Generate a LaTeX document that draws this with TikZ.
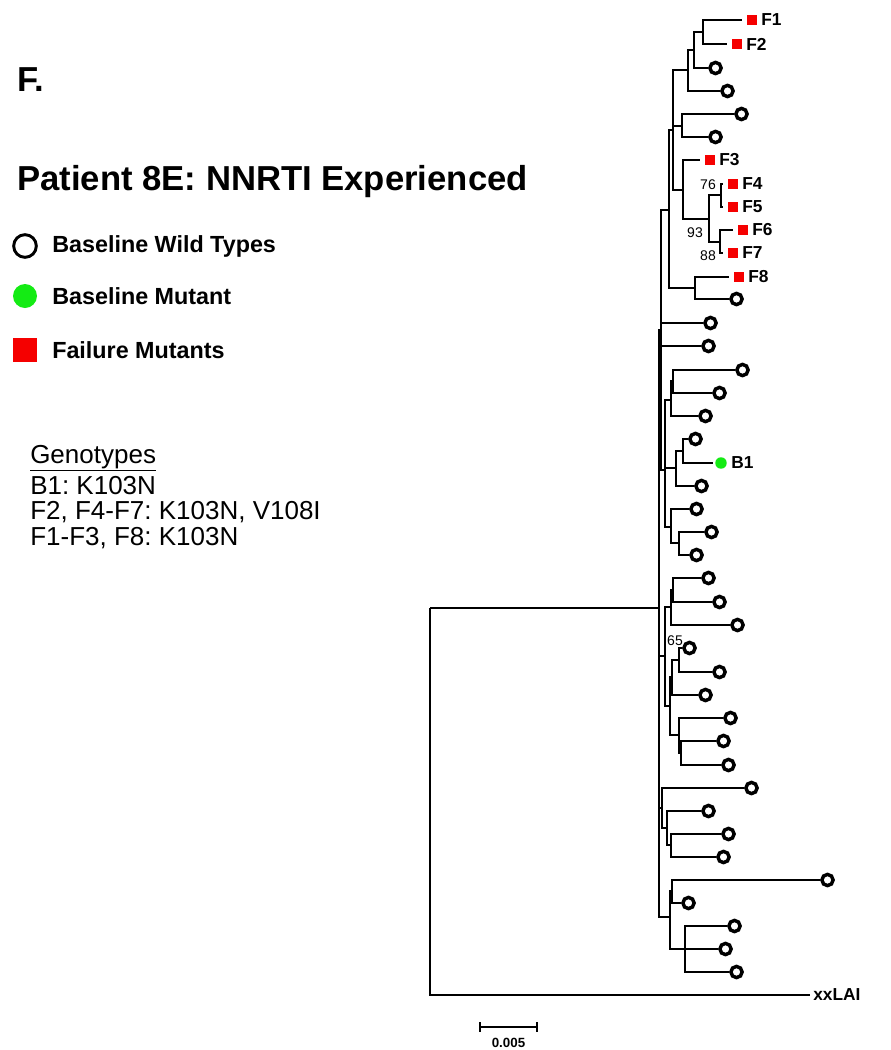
\documentclass[tikz,border=0pt]{standalone}
\usepackage{fontspec}
\setmainfont{Liberation Sans}
\definecolor{fred}{RGB}{245,0,0}
\definecolor{bgreen}{RGB}{20,235,20}
\frenchspacing
\begin{document}
\begin{tikzpicture}[x=0.75pt,y=-0.75pt,
  br/.style={line width=1.5pt},
  wt/.style={circle, draw=black, line width=2.6pt, minimum size=8.4pt, inner sep=0pt},
  fm/.style={rectangle, fill=fred, minimum size=7.5pt, inner sep=0pt},
  bm/.style={circle, fill=bgreen, minimum size=8.6pt, inner sep=0pt},
  lbl/.style={anchor=west, inner sep=0pt, font=\bfseries\fontsize{13}{15}\selectfont},
  boot/.style={inner sep=0pt, font=\fontsize{10.5}{12}\selectfont},
  big/.style={anchor=west, inner sep=0pt, font=\bfseries\fontsize{26}{30}\selectfont},
  leg/.style={anchor=west, inner sep=0pt, font=\bfseries\fontsize{17.5}{20}\selectfont},
  geno/.style={anchor=west, inner sep=0pt, font=\fontsize{19.5}{22}\selectfont}]
\useasboundingbox (0,0) rectangle (890,1050);
\fill[white] (0,0) rectangle (890,1050);

% headings and legend
\node[big] (Fhead) at (17,80) {F.};
\node[big] (title) at (17,182) {Patient 8E: NNRTI Experienced};
\node[circle, draw=black, line width=2.2pt, minimum size=17pt, inner sep=0pt] (legwt) at (25,246) {};
\node[leg] (legwtl) at (52,246) {Baseline Wild Types};
\node[circle, fill=bgreen, minimum size=18pt, inner sep=0pt] (legbm) at (25,296) {};
\node[leg] (legbml) at (52,296) {Baseline Mutant};
\node[rectangle, fill=fred, minimum size=17.5pt, inner sep=0pt] (legfm) at (25,350) {};
\node[leg] (legfml) at (52,350) {Failure Mutants};
\node[geno] (g0) at (30,458) {\underline{Genotypes}};
\node[geno] (g1) at (30,486) {B1: K103N};
\node[geno] (g2) at (30,512) {F2, F4-F7: K103N, V108I};
\node[geno] (g3) at (30,538) {F1-F3, F8: K103N};

% wild-type leaves
\foreach \n/\x/\y in {c68/708/68, c91/720/91, c115/734/114, c137/708/137, c299/729/299,
  c323/703/323, c346/701/346, c370/735/370, c393/712/393, c416/698/416, c439/688/439,
  c486/694/486, c509/689/509, c532/704/532, c555/689/555, c579/701/578, c602/712/602,
  c625/730/625, c648/682/648, c672/712/672, c695/698/695, c718/723/718, c741/716/741,
  c765/721/765, c788/744/788, c811/701/811, c834/721/834, c857/716/857, c880/820/880,
  c903/681/903, c926/727/926, c949/718/949, c972/729/972}{
  \coordinate (\n) at (\x,\y);
  \node[wt] (\n m) at (\x+7.5,\y) {};
}
% failure mutant leaves
\foreach \n/\x/\y in {F1/742/20, F2/727/44, F3/700/160, F4/723/184, F5/723/207,
  F6/733/230, F7/723/253, F8/729/277}{
  \coordinate (\n) at (\x,\y);
  \node[fm] (\n m) at (\x+10,\y) {};
  \node[lbl] (\n l) at (\x+19,\y) {\n};
}
% baseline mutant
\coordinate (B1) at (713,463);
\node[bm] (B1m) at (721,463) {};
\node[lbl] (B1l) at (731,463) {B1};
% outgroup
\coordinate (LAI) at (810,995);
\node[anchor=west, inner sep=0pt, font=\bfseries\fontsize{13}{15}\selectfont] (LAIl) at (813,995) {xxLAI};

% internal nodes
\coordinate (n1) at (703,32);
\coordinate (n2) at (694,50);
\coordinate (n3) at (688,70);
\coordinate (n4) at (682,126);
\coordinate (n5) at (673,130);
\coordinate (F45) at (721,195);
\coordinate (F67) at (720,242);
\coordinate (F4567) at (709,219);
\coordinate (F3c) at (683,190);
\coordinate (F8c) at (695,288);
\coordinate (n6) at (669,210);
\coordinate (M1) at (661,330);
\coordinate (M1b) at (665,470);
\coordinate (N381) at (673,381);
\coordinate (mid1) at (670.7,400);
\coordinate (N451) at (682.7,451);
\coordinate (mid2) at (676,468);
\coordinate (N543) at (679,543);
\coordinate (mid3) at (671,527);
\coordinate (M2) at (665,656);
\coordinate (N590) at (673,590);
\coordinate (P) at (670.7,607);
\coordinate (N660) at (679,660);
\coordinate (N677) at (671.7,677);
\coordinate (N753) at (680.7,753);
\coordinate (N735) at (679,735);
\coordinate (Q) at (670,706);
\coordinate (M3) at (662,808);
\coordinate (N845) at (670.7,845);
\coordinate (N828) at (667,828);
\coordinate (M4) at (670,917);
\coordinate (N891) at (671.7,891);
\coordinate (N949) at (685,949);
\coordinate (R) at (659,608);
\coordinate (O) at (430,608);

% branches
\draw[br] (n1) |- (F1) (n1) |- (F2)
  (n2) |- (n1) (n2) |- (c68)
  (n3) |- (n2) (n3) |- (c91)
  (n4) |- (c115) (n4) |- (c137)
  (n5) |- (n3) (n5) |- (n4) (n5) |- (F3c)
  (F3c) |- (F3) (F3c) |- (F4567)
  (F4567) |- (F45) (F4567) |- (F67)
  (F45) |- (F4) (F45) |- (F5)
  (F67) |- (F6) (F67) |- (F7)
  (F8c) |- (F8) (F8c) |- (c299)
  (n6) |- (n5) (n6) |- (F8c)
  (M1) |- (n6) (M1) |- (c323) (M1) |- (c346) (M1) |- (M1b)
  (M1b) |- (mid1) (M1b) |- (mid2) (M1b) |- (mid3)
  (N381) |- (c370) (N381) |- (c393)
  (mid1) |- (N381) (mid1) |- (c416)
  (N451) |- (c439) (N451) |- (B1)
  (mid2) |- (N451) (mid2) |- (c486)
  (N543) |- (c532) (N543) |- (c555)
  (mid3) |- (c509) (mid3) |- (N543)
  (N590) |- (c579) (N590) |- (c602)
  (P) |- (N590) (P) |- (c625)
  (N660) |- (c648) (N660) |- (c672)
  (N677) |- (N660) (N677) |- (c695)
  (N753) |- (c741) (N753) |- (c765)
  (N735) |- (c718) (N735) |- (N753)
  (Q) |- (N677) (Q) |- (N735)
  (M2) |- (P) (M2) |- (Q)
  (N845) |- (c834) (N845) |- (c857)
  (N828) |- (c811) (N828) |- (N845)
  (M3) |- (c788) (M3) |- (N828)
  (N891) |- (c880) (N891) |- (c903)
  (N949) |- (c926) (N949) |- (c949) (N949) |- (c972)
  (M4) |- (N891) (M4) |- (N949)
  (R) |- (M1) (R) |- (M2) (R) |- (M3) (R) |- (M4)
  (O) |- (R) (O) |- (LAI);

% bootstrap values
\node[boot] (b76) at (708,185) {76};
\node[boot] (b93) at (695,233) {93};
\node[boot] (b88) at (708,256) {88};
\node[boot] (b65) at (675,641) {65};

% scale bar
\coordinate (sbL) at (480,1027);
\coordinate (sbR) at (537,1027);
\draw[br] (sbL) -- (sbR);
\draw[br] (sbL) ++(0,-5) -- ++(0,10);
\draw[br] (sbR) ++(0,-5) -- ++(0,10);
\node[inner sep=0pt, font=\bfseries\fontsize{10}{12}\selectfont] (sblab) at (508.5,1043) {0.005};
\end{tikzpicture}
\end{document}
